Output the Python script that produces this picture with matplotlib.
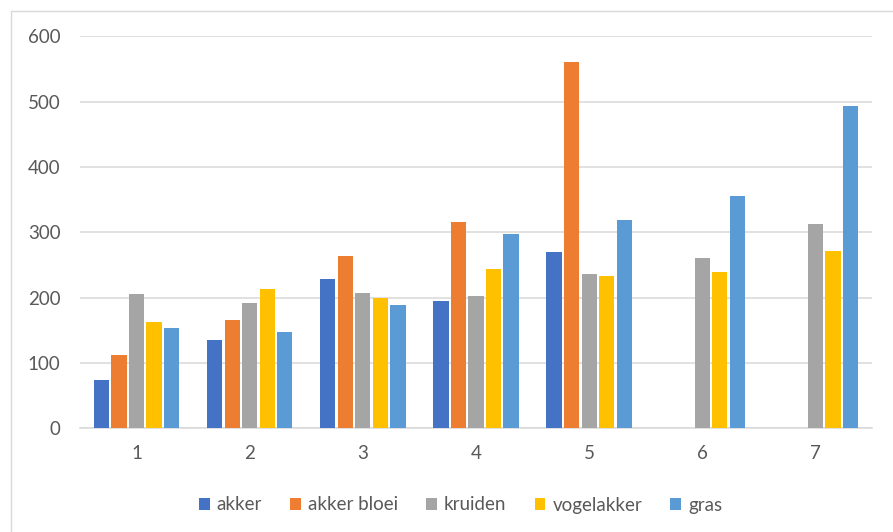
import numpy as np
import matplotlib
matplotlib.use('Agg')
import matplotlib.pyplot as plt
from matplotlib.patches import Rectangle

# measurements per period
periods = ['1', '2', '3', '4', '5', '6', '7']
series = ['akker', 'akker bloei', 'kruiden', 'vogelakker', 'gras']
akker = [74, 135, 228, 194, 270, np.nan, np.nan]
akker_bloei = [112, 166, 264, 315, 561, np.nan, np.nan]
kruiden = [205, 191, 207, 202, 236, 261, 312]
vogelakker = [162, 213, 199, 244, 233, 239, 272]
gras = [154, 148, 188, 298, 318, 355, 494]
colors = ['#4472C4', '#ED7D31', '#A5A5A5', '#FFC000', '#5B9BD5']

values = [akker, akker_bloei, kruiden, vogelakker, gras]

plt.rcParams['font.family'] = ['Lato', 'DejaVu Sans']
txt_col = '#595959'
grid_col = '#D9D9D9'

fig = plt.figure(figsize=(8.93, 5.32), dpi=100)
ax = fig.add_axes([80/893, 1-428.2/532, 792/893, (428.2-36.3)/532])

# outer chart frame (runs off the right and bottom edge)
fig.patches.append(Rectangle((11/893, -0.1), 1.2, 1.1-11/532, transform=fig.transFigure,
	fill=False, edgecolor=grid_col, linewidth=1.0))

x = np.arange(1, len(periods)+1)
step = 0.155
for i in range(len(series)):
	off = (i - 2) * step
	ax.bar(x + off, values[i], width=0.135, color=colors[i], label=series[i], zorder=3)

ax.set_xlim(0.5, 7.5)
ax.set_ylim(0, 600)
ax.set_yticks(range(0, 601, 100))
ax.set_xticks(x)
ax.set_xticklabels(periods)
ax.yaxis.grid(True, color=grid_col, linewidth=1.1, zorder=0)
ax.set_axisbelow(True)
for s in ['top', 'right', 'left']:
	ax.spines[s].set_visible(False)
ax.spines['bottom'].set_color(grid_col)
ax.spines['bottom'].set_linewidth(1.1)
ax.tick_params(axis='both', length=0, labelsize=13.5, labelcolor=txt_col)
ax.tick_params(axis='y', pad=14)
ax.tick_params(axis='x', pad=12)

leg = fig.legend(loc='center', bbox_to_anchor=(460.5/893, 1-505/532), ncol=5, frameon=False,
	fontsize=13.5, handlelength=0.58, handleheight=0.58, handletextpad=0.37, columnspacing=1.5)
for t in leg.get_texts():
	t.set_color(txt_col)

fig.savefig('out.png', dpi=100)
